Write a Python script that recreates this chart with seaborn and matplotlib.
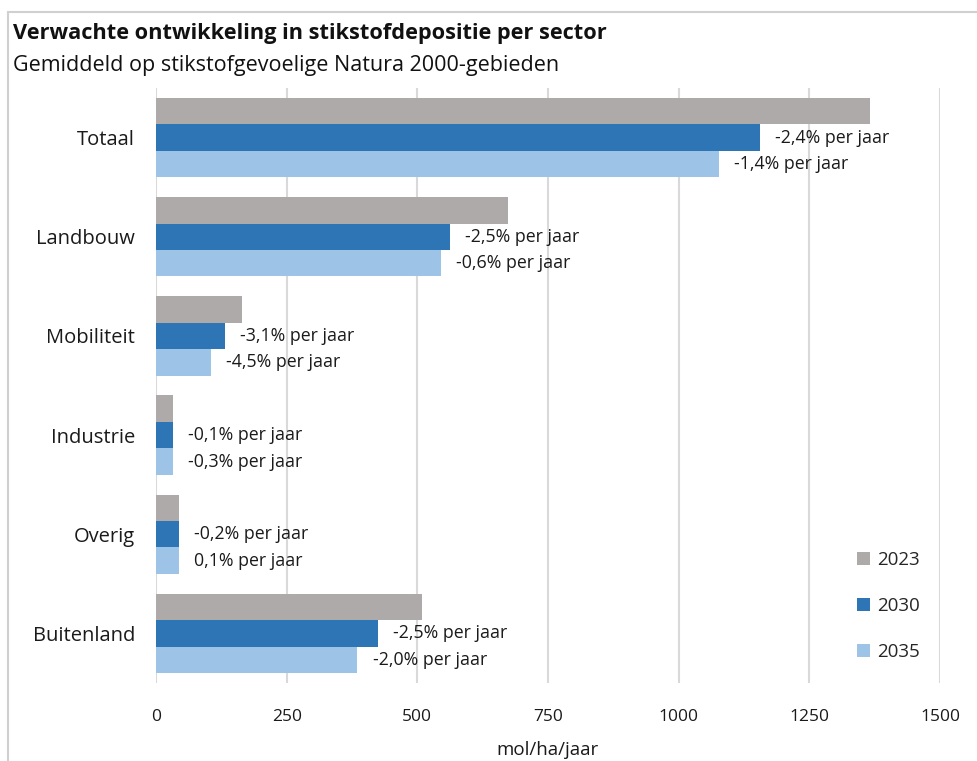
import matplotlib
matplotlib.use("Agg")
import matplotlib.pyplot as plt
from matplotlib.lines import Line2D
from matplotlib.patches import Patch
import pandas as pd
import seaborn as sns

# values (mol/ha/jaar)
sectors = ["Totaal", "Landbouw", "Mobiliteit", "Industrie", "Overig", "Buitenland"]
years = ["2023", "2030", "2035"]
v2023 = [1366, 673, 165, 33, 44, 509]
v2030 = [1155, 562, 132, 32, 44, 425]
v2035 = [1077, 545, 105, 32, 44, 385]
labels_2030 = ["-2,4% per jaar", "-2,5% per jaar", "-3,1% per jaar",
               "-0,1% per jaar", "-0,2% per jaar", "-2,5% per jaar"]
labels_2035 = ["-1,4% per jaar", "-0,6% per jaar", "-4,5% per jaar",
               "-0,3% per jaar", "0,1% per jaar", "-2,0% per jaar"]
colors = ["#aeaaaa", "#2e75b6", "#9dc3e6"]

df = pd.DataFrame({
    "sector": sectors * 3,
    "jaar": [y for y in years for _ in sectors],
    "waarde": v2023 + v2030 + v2035,
})

sns.set_theme(style="white")
plt.rcParams["font.family"] = ["Open Sans", "DejaVu Sans"]

fig = plt.figure(figsize=(9.78, 7.61), dpi=100)
ax = fig.add_axes([156 / 978, 1 - 683 / 761, 784 / 978, 595 / 761])

sns.barplot(data=df, y="sector", x="waarde", hue="jaar", order=sectors,
            hue_order=years, palette=colors, orient="h", width=0.8,
            saturation=1, linewidth=0, ax=ax, legend=False)

ax.set_xlim(0, 1500)
ax.set_xticks([0, 250, 500, 750, 1000, 1250, 1500])
ax.grid(axis="x", color="#d9d9d9", linewidth=1.5)
ax.set_axisbelow(True)
for s in ax.spines.values():
    s.set_visible(False)
ax.tick_params(axis="x", length=0, pad=19, labelsize=12.5, colors="#1a1a1a")
ax.tick_params(axis="y", length=0, pad=15, labelsize=14.5, colors="#1a1a1a")
ax.set_ylabel("")
ax.set_xlabel("mol/ha/jaar", fontsize=13.5, labelpad=11, color="#1a1a1a")

# per-year change labels next to the 2030 and 2035 bars
for cont, labs in zip(ax.containers[1:], [labels_2030, labels_2035]):
    for bar, lab in zip(cont, labs):
        ax.annotate(lab, (bar.get_width(), bar.get_y() + bar.get_height() / 2),
                    xytext=(11, 0), textcoords="offset points",
                    va="center", ha="left", fontsize=12.8, color="#1a1a1a")

handles = [Patch(facecolor=c, edgecolor="none") for c in colors]
fig.legend(handles, years, loc="center left",
           bbox_to_anchor=(848 / 978, 1 - 606 / 761), frameon=False,
           fontsize=13.5, handlelength=0.7, handleheight=0.7,
           handletextpad=0.35, labelspacing=1.5, borderpad=0)

fig.text(13 / 978, 1 - 33 / 761, "Verwachte ontwikkeling in stikstofdepositie per sector",
         fontsize=15.7, fontweight="bold", va="center", ha="left", color="#111111")
fig.text(13 / 978, 1 - 65 / 761, "Gemiddeld op stikstofgevoelige Natura 2000-gebieden",
         fontsize=15.5, va="center", ha="left", color="#111111")

# frame of the surrounding box
fig.add_artist(Line2D([8 / 978, 8 / 978], [0, 1 - 12 / 761], color="#d0d0d0", lw=1.5))
fig.add_artist(Line2D([8 / 978, 1], [1 - 12 / 761, 1 - 12 / 761], color="#d0d0d0", lw=1.5))

fig.savefig("out.png", dpi=100)
